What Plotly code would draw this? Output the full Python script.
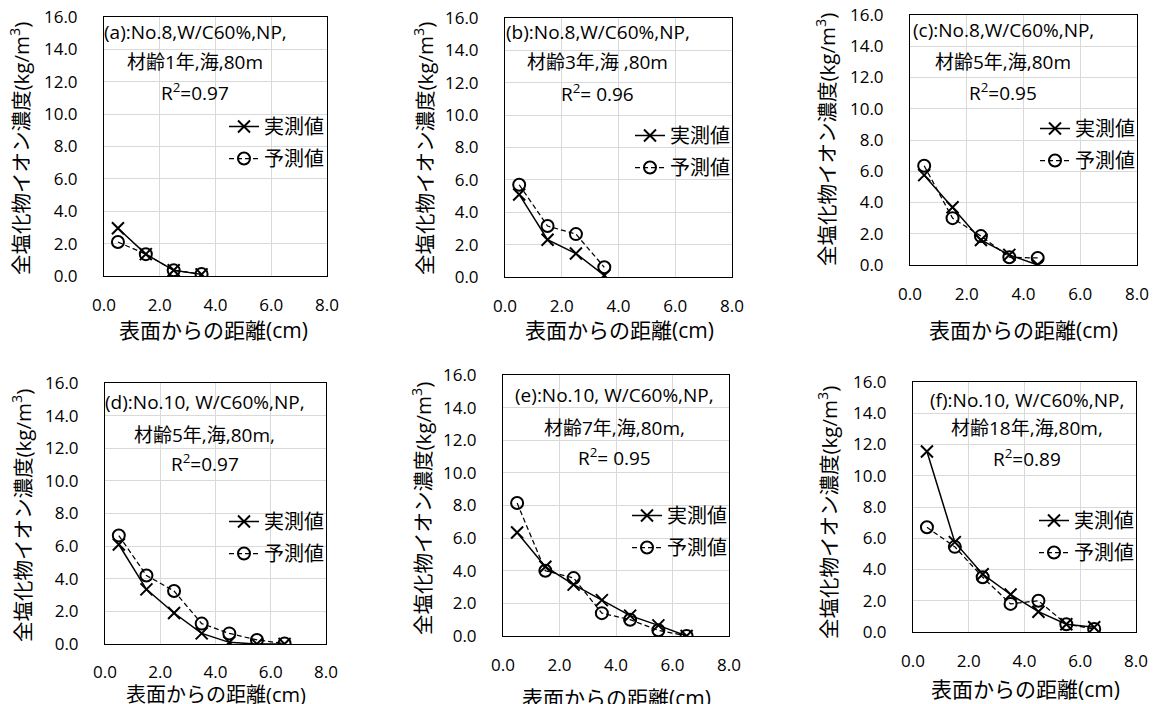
import plotly.graph_objects as go

# ---------------- data ----------------
depth_a = [0.5, 1.5, 2.5, 3.5]
meas_a = [2.95, 1.35, 0.35, 0.10]
pred_a = [2.10, 1.35, 0.35, 0.12]

depth_b = [0.5, 1.5, 2.5, 3.5]
meas_b = [5.10, 2.30, 1.45, 0.10]
pred_b = [5.70, 3.15, 2.65, 0.60]

depth_c = [0.5, 1.5, 2.5, 3.5, 4.5]
meas_c = [5.75, 3.70, 1.60, 0.65, 0.00]
pred_c = [6.35, 3.00, 1.85, 0.50, 0.45]

depth_d = [0.5, 1.5, 2.5, 3.5, 4.5, 5.5, 6.5]
meas_d = [6.10, 3.35, 1.90, 0.65, 0.10, 0.00, 0.00]
pred_d = [6.65, 4.20, 3.25, 1.25, 0.65, 0.25, 0.03]

depth_e = [0.5, 1.5, 2.5, 3.5, 4.5, 5.5, 6.5]
meas_e = [6.35, 4.25, 3.15, 2.20, 1.25, 0.65, 0.00]
pred_e = [8.15, 4.00, 3.55, 1.40, 1.00, 0.35, 0.00]

depth_f = [0.5, 1.5, 2.5, 3.5, 4.5, 5.5, 6.5]
meas_f = [11.55, 5.75, 3.70, 2.40, 1.30, 0.50, 0.30]
pred_f = [6.70, 5.45, 3.50, 1.80, 2.00, 0.50, 0.20]

titles_line1 = ["(a):No.8,W/C60%,NP,", "(b):No.8,W/C60%,NP,", "(c):No.8,W/C60%,NP,",
                "(d):No.10, W/C60%,NP,", "(e):No.10, W/C60%,NP,", "(f):No.10, W/C60%,NP,"]
titles_line2 = ["材齢1年,海,80m", "材齢3年,海 ,80m", "材齢5年,海,80m",
                "材齢5年,海,80m,", "材齢7年,海,80m,", "材齢18年,海,80m,"]
titles_line3 = ["R<sup>2</sup>=0.97", "R<sup>2</sup>= 0.96", "R<sup>2</sup>=0.95",
                "R<sup>2</sup>=0.97", "R<sup>2</sup>= 0.95", "R<sup>2</sup>=0.89"]
name_meas = "実測値"
name_pred = "予測値"
x_title = "表面からの距離(cm)"
y_title = "全塩化物イオン濃度(kg/m<sup>3</sup>)"

# ---------------- layout geometry (pixels) ----------------
W, H = 1153, 704
FONT = "Open Sans, Noto Sans CJK JP, sans-serif"
boxes = [(104, 327, 17, 276), (505, 732, 18, 277), (910, 1137, 15, 265),
         (105, 326, 383, 644), (503, 729, 375, 636), (913, 1136, 382, 632)]
text_pos = [(195, [32, 62, 92]), (598, [32, 62, 93]), (1003, [30, 62, 92]),
            (205, [402, 435, 463]), (614, [395, 428, 457]), (1027, [400, 428, 458])]
legend_pos = [(240, 126), (262 + 384, 135), (283 + 768, 128),
              (240, 521), (259 + 384, 515), (282 + 768, 520)]
ytitle_pos = [(20, 149), (424, 149), (826, 140), (22, 516), (422, 509), (828, 513)]
xtitle_pos = [(213, 330), (619, 330), (1023, 330), (216, 694), (616, 698), (1025, 689)]
xtitle_size = [21, 21, 21, 20, 21, 21]
xtick_len = [14, 14, 14, 13, 14, 14]

def px(x):
    return x / W

def py(y):
    return 1 - y / H

data = [(depth_a, meas_a, pred_a), (depth_b, meas_b, pred_b), (depth_c, meas_c, pred_c),
        (depth_d, meas_d, pred_d), (depth_e, meas_e, pred_e), (depth_f, meas_f, pred_f)]

fig = go.Figure()
annotations = []
layout_kw = {}
for i, ((dx, m, p), (x0, x1, y0, y1)) in enumerate(zip(data, boxes)):
    n = i + 1
    xa = "x" if n == 1 else f"x{n}"
    ya = "y" if n == 1 else f"y{n}"
    lg = "legend" if n == 1 else f"legend{n}"
    fig.add_trace(go.Scatter(
        x=dx, y=m, mode="lines+markers", name=name_meas, xaxis=xa, yaxis=ya,
        legend=lg, legendgroup=f"m{n}",
        line=dict(color="black", width=1.5),
        marker=dict(symbol="x-thin", size=12, line=dict(color="black", width=2)),
    ))
    fig.add_trace(go.Scatter(
        x=dx, y=p, mode="lines+markers", name=name_pred, xaxis=xa, yaxis=ya,
        legend=lg, legendgroup=f"p{n}",
        line=dict(color="black", width=1.25, dash="5px,3px"),
        marker=dict(symbol="circle-open", size=12, color="black", line=dict(color="black", width=2)),
    ))
    axkey_x = "xaxis" if n == 1 else f"xaxis{n}"
    axkey_y = "yaxis" if n == 1 else f"yaxis{n}"
    layout_kw[axkey_x] = dict(
        domain=[px(x0), px(x1)], anchor=ya, range=[0, 8], dtick=2, tick0=0,
        tickformat=".1f", showgrid=True, gridcolor="#d9d9d9", gridwidth=1,
        showline=True, linecolor="black", linewidth=1, mirror=True, zeroline=False,
        ticks="outside", ticklen=xtick_len[i], tickcolor="rgba(0,0,0,0)",
        automargin=False,
        tickfont=dict(family=FONT, size=17, color="black"),
    )
    layout_kw[axkey_y] = dict(
        domain=[py(y1), py(y0)], anchor=xa, range=[0, 16], dtick=2, tick0=0,
        tickformat=".1f", showgrid=True, gridcolor="#d9d9d9", gridwidth=1,
        showline=True, linecolor="black", linewidth=1, mirror=True, zeroline=False,
        ticks="outside", ticklen=22, tickcolor="rgba(0,0,0,0)",
        automargin=False,
        tickfont=dict(family=FONT, size=17, color="black"),
    )
    lx, ly = legend_pos[i]
    layout_kw[lg] = dict(
        x=px(lx - 16), y=py(ly - 19), xanchor="left", yanchor="top",
        bgcolor="rgba(0,0,0,0)", borderwidth=0,
        font=dict(family=FONT, size=20, color="black"),
        traceorder="grouped", tracegroupgap=3, itemwidth=30,
    )
    cx, ys = text_pos[i]
    for t, yy in zip([titles_line1[i], titles_line2[i], titles_line3[i]], ys):
        annotations.append(dict(
            text=t, x=px(cx), y=py(yy), xref="paper", yref="paper",
            xanchor="center", yanchor="middle", showarrow=False,
            font=dict(family=FONT, size=19, color="black"),
        ))
    tx, ty = ytitle_pos[i]
    annotations.append(dict(
        text=y_title, x=px(tx), y=py(ty), xref="paper", yref="paper",
        xanchor="center", yanchor="middle", showarrow=False, textangle=-90,
        font=dict(family=FONT, size=20.5, color="black"),
    ))
    tx, ty = xtitle_pos[i]
    annotations.append(dict(
        text=x_title, x=px(tx), y=py(ty), xref="paper", yref="paper",
        xanchor="center", yanchor="middle", showarrow=False,
        font=dict(family=FONT, size=xtitle_size[i], color="black"),
    ))

fig.update_layout(
    template="none",
    width=W, height=H, margin=dict(l=0, r=0, t=0, b=0, pad=0),
    paper_bgcolor="white", plot_bgcolor="white",
    font=dict(family=FONT, color="black"),
    showlegend=True, annotations=annotations, **layout_kw,
)
fig.write_html("out.html")
